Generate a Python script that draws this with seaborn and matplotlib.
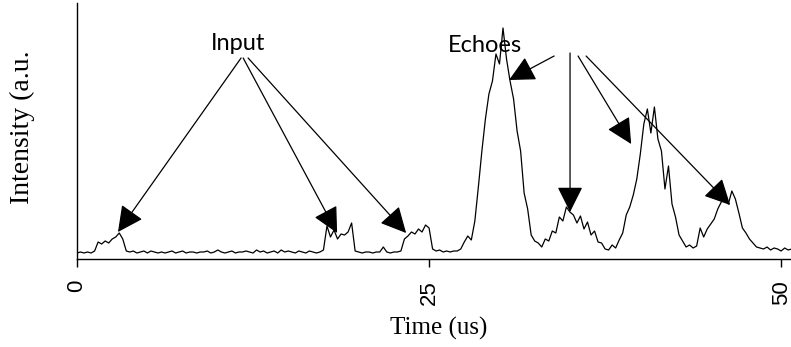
import numpy as np
import pandas as pd
import matplotlib
matplotlib.use("Agg")
import matplotlib.pyplot as plt
import seaborn as sns

# Sampled detector trace, one sample every 0.25 us
sample_step_us = 0.25
intensity = [
    6, 7, 6, 7,  6, 8, 17, 15,  18, 16, 20, 22,  26, 20, 8, 7,
    8, 6, 7, 8,  6, 8, 7, 6,  7, 6, 7, 8,  6, 7, 8, 6,
    7, 7, 6, 7,  7, 8, 6, 7,  9, 7, 6, 7,  8, 6, 7, 7,
    8, 7, 6, 9,  7, 8, 6, 7,  8, 6, 9, 7,  8, 7, 6, 8,
    7, 6, 8, 7,  6, 7, 9, 33,  22, 29, 20, 25,  24, 27, 36, 8,
    7, 6, 7, 7,  6, 7, 7, 12,  7, 6, 7, 7,  8, 20, 23, 27,
    25, 30, 27, 34,  31, 10, 8, 9,  7, 8, 7, 8,  8, 10, 17, 23,
    19, 38, 72, 108,  140, 165, 178, 205,  195, 231, 200, 178,  160, 128, 108, 66,
    50, 24, 18, 16,  12, 20, 18, 28,  26, 42, 38, 52,  47, 44, 36, 43,
    30, 37, 24, 28,  17, 16, 10, 9,  14, 11, 19, 26,  44, 52, 64, 80,
    105, 135, 150, 126,  152, 120, 108, 70,  93, 55, 42, 24,  18, 12, 14, 11,
    13, 31, 22, 30,  35, 40, 50, 57,  62, 55, 68, 60,  46, 31, 26, 20,
    16, 12, 11, 10,  12, 9, 11, 10,  8, 11, 9, 10,
]
time_us = np.arange(len(intensity)) * sample_step_us

x_ticks = [0, 25, 50]
x_tick_labels = ["0", "25", "50"]

# Annotation targets (time, intensity)
input_label = "Input"
input_targets = [(2.91, 27), (18.47, 26), (23.37, 26)]
input_tails = [(11.65, 201), (11.8, 201), (12.15, 201)]
echo_label = "Echoes"
echo_targets = [(30.68, 179), (35.01, 47), (39.35, 115), (46.38, 54)]
echo_tails = [(33.88, 203), (35.01, 206), (35.58, 203), (36.15, 203)]

df = pd.DataFrame({"time": time_us, "intensity": intensity})

sns.set_theme(style="ticks")
plt.rcParams["font.family"] = ["DejaVu Sans"]

fig = plt.figure(figsize=(7.91, 3.47), dpi=100)
ax = fig.add_axes([77 / 791, 88 / 347, 714 / 791, 256 / 347])

sns.lineplot(data=df, x="time", y="intensity", color="black", linewidth=0.9, ax=ax)

ax.set_xlim(0, 50.7)
ax.set_ylim(0, 256)
ax.set_yticks([])
ax.set_xticks(x_ticks)
ax.set_xticklabels(x_tick_labels, rotation=90,
                   family=["Liberation Sans Narrow", "Liberation Sans", "DejaVu Sans"],
                   fontsize=16, color="black")
ax.tick_params(axis="x", direction="out", length=6, width=1.0, color="black", pad=9)

for side in ["top", "right"]:
    ax.spines[side].set_visible(False)
for side in ["left", "bottom"]:
    ax.spines[side].set_color("black")
    ax.spines[side].set_linewidth(1.0)

ax.set_xlabel("Time (us)", family=["Liberation Serif", "DejaVu Serif"], fontsize=18,
              color="black")
ax.xaxis.set_label_coords(0.506, -0.273)
ax.xaxis.label.set_va("center")
ax.set_ylabel("Intensity (a.u.", family=["Liberation Serif", "DejaVu Serif"], fontsize=20,
              color="black")
ax.yaxis.set_label_coords(-0.077, 0.516)
ax.yaxis.label.set_va("center")

label_font = dict(family=["Lato", "DejaVu Sans"], fontsize=17, fontweight="normal",
                  color="black")
arrow = dict(arrowstyle="-|>,head_length=1.0,head_width=0.5", mutation_scale=16,
             color="black", lw=0.9, shrinkA=0, shrinkB=0)

ax.text(11.43, 216, input_label, ha="center", va="center", **label_font)
for tail, tip in zip(input_tails, input_targets):
    ax.annotate("", xy=tip, xytext=tail, arrowprops=arrow)

ax.text(28.98, 214, echo_label, ha="center", va="center", **label_font)
for tail, tip in zip(echo_tails, echo_targets):
    ax.annotate("", xy=tip, xytext=tail, arrowprops=arrow)

fig.savefig("out.png", dpi=100)
